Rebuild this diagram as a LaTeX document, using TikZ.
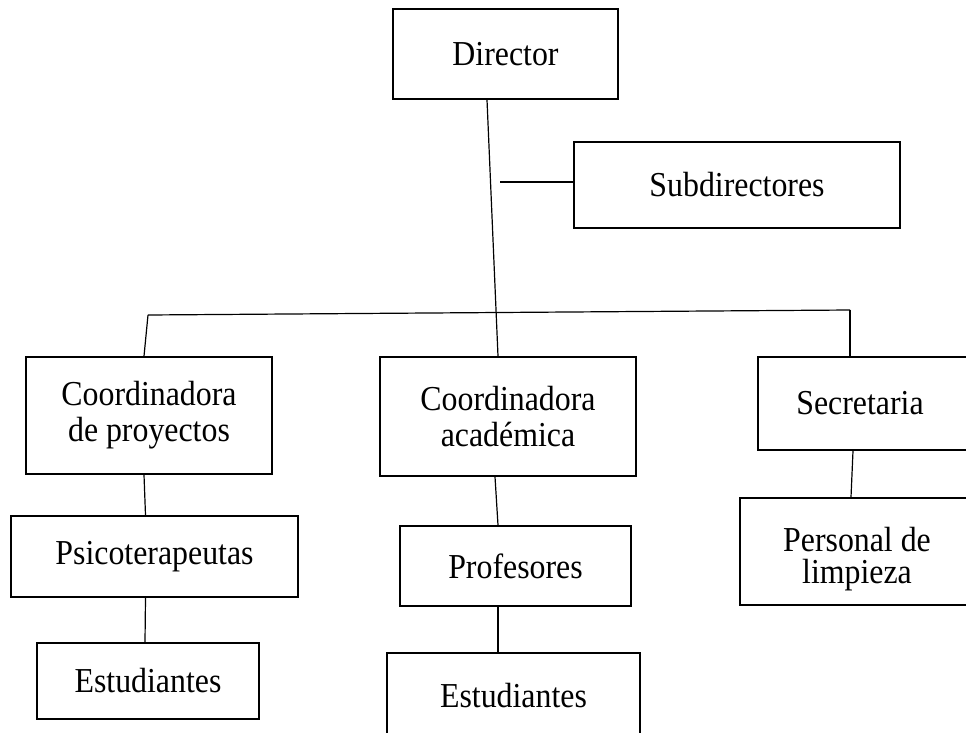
\documentclass[tikz,border=0pt]{standalone}
\usepackage{fontspec}
\setmainfont[FakeStretch=0.91]{Liberation Serif}
\usetikzlibrary {positioning}

\tikzset{
    box/.style = {rectangle, draw, line width=1.7pt, inner sep=0pt, align=center,
                  font=\fontsize{35}{36}\selectfont},
    link/.style = {line width=1.2pt}
}

\begin{document}
\begin{tikzpicture}[x=1pt,y=-1pt]

            % \draw [help lines] (0,0) grid (966,733);
            \useasboundingbox (0,0) rectangle (966,733);

            \path   (505.5,54)  node (dir)  [box,minimum width=225pt,minimum height=90pt] {Director}
                    (737,185)   node (sub)  [box,minimum width=326pt,minimum height=86pt] {Subdirectores}
                    (149,415.5) node (cp)   [box,minimum width=246pt,minimum height=117pt] {Coordinadora\\de proyectos}
                    (508,416.5) node (ca)   [box,minimum width=256pt,minimum height=119pt] {Coordinadora\\académica}
                    (869,403.5) node (sec)  [box,minimum width=222pt,minimum height=93pt] {Secretaria\hspace{18pt}}
                    (154.5,556.5) node (ps) [box,minimum width=287pt,minimum height=81pt] {Psicoterapeutas}
                    (515.5,566) node (pr)   [box,minimum width=231pt,minimum height=80pt] {Profesores}
                    (862.5,551.5) node (pl) [box,minimum width=245pt,minimum height=107pt,
                                             font=\fontsize{35}{32}\selectfont]
                                            {\raisebox{-8pt}[\height][\depth]{Personal de\hspace{11pt}}\\
                                             \raisebox{-8pt}[\height][\depth]{limpieza\hspace{11pt}}}
                    (148,681)   node (e1)   [box,minimum width=222pt,minimum height=76pt] {Estudiantes}
                    (513.5,696) node (e2)   [box,minimum width=253pt,minimum height=86pt] {Estudiantes};

            \coordinate (stub) at (500,182);
            \coordinate (barL) at (148,315);
            \coordinate (barR) at (850,310);

            \draw[link] ([xshift=-18.5pt]dir.south) -- ([xshift=-10pt]ca.north);
            \draw[link] (stub) -- (sub.west |- stub);
            \draw[link] (barL) -- (barR);
            \draw[link] (barL) -- ([xshift=-5pt]cp.north);
            \draw[link] (barR) -- (barR |- sec.north);
            \draw[link] ([xshift=-5pt]cp.south) -- ([xshift=-9pt]ps.north);
            \draw[link] ([xshift=-9pt]ps.south) -- ([xshift=-3pt]e1.north);
            \draw[link] ([xshift=-13pt]ca.south) -- ([xshift=-17.5pt]pr.north);
            \draw[link] ([xshift=-17.5pt]pr.south) -- ([xshift=-15.5pt]e2.north);
            \draw[link] ([xshift=-16pt]sec.south) -- ([xshift=-11.5pt]pl.north);

\end{tikzpicture}
\end{document}
